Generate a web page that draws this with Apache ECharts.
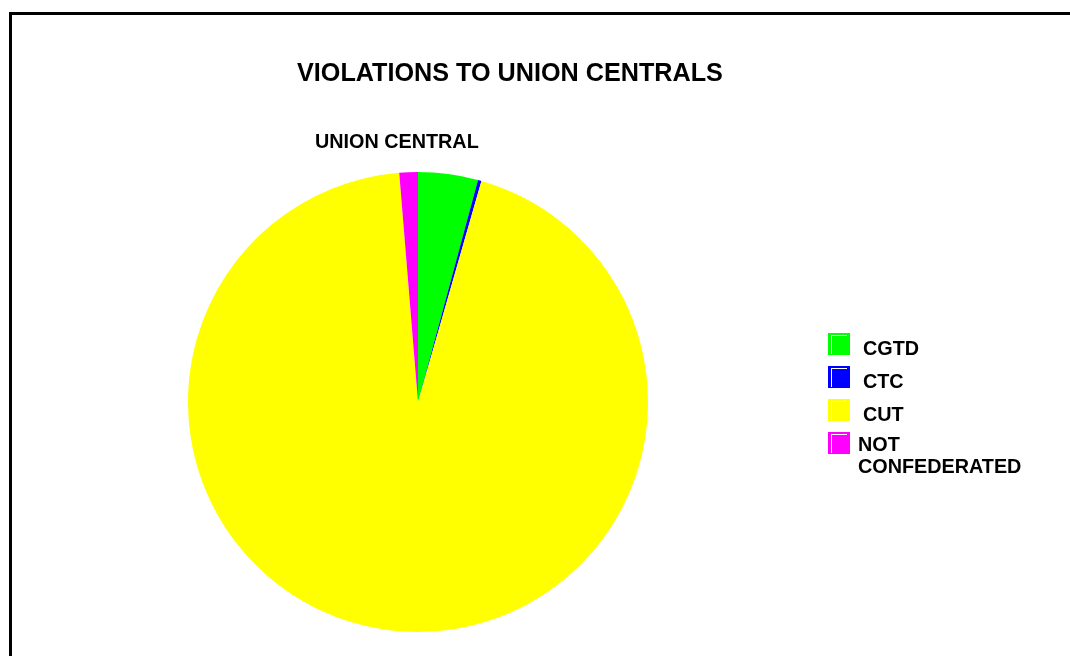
<!DOCTYPE html>
<html>
<head>
<meta charset="utf-8">
<script src="https://cdn.jsdelivr.net/npm/echarts@6/dist/echarts.min.js"></script>
<style>
html,body{margin:0;padding:0;background:#fff;}
#chart{width:1070px;height:656px;}
</style>
</head>
<body>
<div id="chart"></div>
<script>
const titleText = 'VIOLATIONS TO UNION CENTRALS';
const subtitleText = 'UNION CENTRAL';
const categories = ['CGTD', 'CTC', 'CUT', 'NOT CONFEDERATED'];
const values = [4.2, 0.25, 94.25, 1.3];
const colors = ['#00ff00', '#0000ff', '#ffff00', '#ff00ff'];

const FONT = '"Liberation Sans", Arial, sans-serif';
const iconPath = 'path://M0 0H22V22H0Z M3 2V21H4V3H19V2Z';

const chart = echarts.init(document.getElementById('chart'), null, {renderer: 'canvas'});
const data = categories.map((c, i) => ({name: c, value: values[i], itemStyle: {color: colors[i]}}));

const option = {
  backgroundColor: '#ffffff',
  animation: false,
  graphic: [{
    type: 'rect',
    shape: {x: 10.5, y: 13.5, width: 1200, height: 800},
    style: {fill: 'none', stroke: '#000', lineWidth: 3},
    silent: true
  }],
  title: [{
    text: titleText,
    left: 297, top: 62, padding: 0,
    textStyle: {fontFamily: FONT, fontWeight: 'bold', fontSize: 25.2, color: '#000'}
  }, {
    text: subtitleText,
    left: 315, top: 132.5, padding: 0,
    textStyle: {fontFamily: FONT, fontWeight: 'bold', fontSize: 19.8, color: '#000'}
  }],
  legend: [{
    data: categories.slice(0, 3),
    orient: 'vertical',
    left: 828, top: 333, padding: 0,
    itemWidth: 22, itemHeight: 22, itemGap: 6,
    icon: iconPath,
    selectedMode: false,
    formatter: n => '{a|' + n + '}',
    textStyle: {
      fontFamily: FONT, fontWeight: 'bold', fontSize: 19.8, color: '#000',
      rich: {a: {fontFamily: FONT, fontWeight: 'bold', fontSize: 19.8, color: '#000', padding: [12, 0, 0, 8]}}
    }
  }, {
    data: categories.slice(3),
    orient: 'vertical',
    left: 828, top: 416.5, padding: 0,
    itemWidth: 22, itemHeight: 22,
    icon: iconPath,
    selectedMode: false,
    formatter: n => '{s| }\n{n|' + n.replace(' ', '}\n{n|') + '}',
    textStyle: {
      fontFamily: FONT, fontWeight: 'bold', fontSize: 19.8, color: '#000',
      rich: {
        s: {fontSize: 10, lineHeight: 27.5},
        n: {fontFamily: FONT, fontWeight: 'bold', fontSize: 19.8, color: '#000', lineHeight: 21.5, padding: [0, 0, 0, 3]}
      }
    }
  }],
  series: [{
    type: 'pie',
    center: [418, 402],
    radius: [0, 230],
    startAngle: 90,
    clockwise: true,
    avoidLabelOverlap: false,
    label: {show: false},
    labelLine: {show: false},
    emphasis: {disabled: true},
    itemStyle: {borderWidth: 0},
    data: data
  }]
};
chart.setOption(option);
</script>
</body>
</html>
